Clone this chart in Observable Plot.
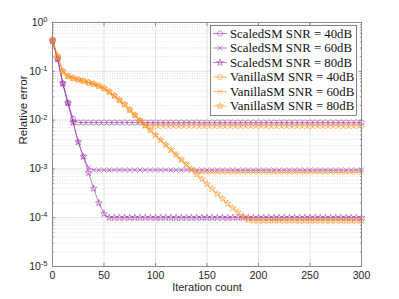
<!DOCTYPE html>
<html><head><meta charset="utf-8">
<script src="https://cdn.jsdelivr.net/npm/d3@7"></script>
<script src="https://cdn.jsdelivr.net/npm/@observablehq/plot@0.6"></script>
<style>
body{margin:0;background:#fff;}
#wrap{position:relative;width:399px;height:299px;}
</style>
</head><body><div id="wrap"></div>
<script>
const iters = [0,5,10,15,20,25,30,35,40,45,50,55,60,65,70,75,80,85,90,95,100,105,110,115,120,125,130,135,140,145,150,155,160,165,170,175,180,185,190,195,200,205,210,215,220,225,230,235,240,245,250,255,260,265,270,275,280,285,290,295,300];

const scaled40 = [0.417,0.178,0.0562,0.0224,0.0107,0.0089,0.0089,0.0089,0.0089,0.0089,
  0.0089,0.0089,0.0089,0.0089,0.0089,0.0089,0.0089,0.0089,0.0089,0.0089,
  0.0089,0.0089,0.0089,0.0089,0.0089,0.0089,0.0089,0.0089,0.0089,0.0089,
  0.0089,0.0089,0.0089,0.0089,0.0089,0.0089,0.0089,0.0089,0.0089,0.0089,
  0.0089,0.0089,0.0089,0.0089,0.0089,0.0089,0.0089,0.0089,0.0089,0.0089,
  0.0089,0.0089,0.0089,0.0089,0.0089,0.0089,0.0089,0.0089,0.0089,0.0089,0.0089];
const scaled60 = [0.417,0.178,0.0562,0.0224,0.00891,0.00355,0.00178,0.00105,0.00095,0.00095,
  0.00095,0.00095,0.00095,0.00095,0.00095,0.00095,0.00095,0.00095,0.00095,0.00095,
  0.00095,0.00095,0.00095,0.00095,0.00095,0.00095,0.00095,0.00095,0.00095,0.00095,
  0.00095,0.00095,0.00095,0.00095,0.00095,0.00095,0.00095,0.00095,0.00095,0.00095,
  0.00095,0.00095,0.00095,0.00095,0.00095,0.00095,0.00095,0.00095,0.00095,0.00095,
  0.00095,0.00095,0.00095,0.00095,0.00095,0.00095,0.00095,0.00095,0.00095,0.00095,0.00095];
const scaled80 = [0.417,0.178,0.0562,0.0224,0.00891,0.00355,0.00178,0.000832,0.000398,0.000200,
  0.000120,0.0001,0.0001,0.0001,0.0001,0.0001,0.0001,0.0001,0.0001,0.0001,
  0.0001,0.0001,0.0001,0.0001,0.0001,0.0001,0.0001,0.0001,0.0001,0.0001,
  0.0001,0.0001,0.0001,0.0001,0.0001,0.0001,0.0001,0.0001,0.0001,0.0001,
  0.0001,0.0001,0.0001,0.0001,0.0001,0.0001,0.0001,0.0001,0.0001,0.0001,
  0.0001,0.0001,0.0001,0.0001,0.0001,0.0001,0.0001,0.0001,0.0001,0.0001,0.0001];
const vanilla40 = [0.447,0.200,0.100,0.0794,0.0724,0.0676,0.0631,0.0589,0.0550,0.0501,
  0.0447,0.0380,0.0316,0.0257,0.0209,0.0162,0.0126,0.0098,0.0078,0.0076,
  0.0076,0.0076,0.0076,0.0076,0.0076,0.0076,0.0076,0.0076,0.0076,0.0076,
  0.0076,0.0076,0.0076,0.0076,0.0076,0.0076,0.0076,0.0076,0.0076,0.0076,
  0.0076,0.0076,0.0076,0.0076,0.0076,0.0076,0.0076,0.0076,0.0076,0.0076,
  0.0076,0.0076,0.0076,0.0076,0.0076,0.0076,0.0076,0.0076,0.0076,0.0076,0.0076];
const vanilla60 = [0.447,0.200,0.100,0.0794,0.0724,0.0676,0.0631,0.0589,0.0550,0.0501,
  0.0447,0.0380,0.0316,0.0257,0.0209,0.0162,0.0126,0.00977,0.00776,0.00617,
  0.00490,0.00389,0.00309,0.00245,0.00195,0.00155,0.00123,0.000977,0.00085,0.00085,
  0.00085,0.00085,0.00085,0.00085,0.00085,0.00085,0.00085,0.00085,0.00085,0.00085,
  0.00085,0.00085,0.00085,0.00085,0.00085,0.00085,0.00085,0.00085,0.00085,0.00085,
  0.00085,0.00085,0.00085,0.00085,0.00085,0.00085,0.00085,0.00085,0.00085,0.00085,0.00085];
const vanilla80 = [0.447,0.200,0.100,0.0794,0.0724,0.0676,0.0631,0.0589,0.0550,0.0501,
  0.0447,0.0380,0.0316,0.0257,0.0209,0.0162,0.0126,0.00977,0.00776,0.00617,
  0.00490,0.00389,0.00309,0.00245,0.00195,0.00155,0.00123,0.000977,0.000776,0.000617,
  0.000490,0.000389,0.000309,0.000245,0.000195,0.000158,0.000129,0.000107,0.0000912,0.0000871,
  0.0000871,0.0000871,0.0000871,0.0000871,0.0000871,0.0000871,0.0000871,0.0000871,0.0000871,0.0000871,
  0.0000871,0.0000871,0.0000871,0.0000871,0.0000871,0.0000871,0.0000871,0.0000871,0.0000871,0.0000871,0.0000871];

const seriesNames = ["ScaledSM SNR = 40dB","ScaledSM SNR = 60dB","ScaledSM SNR = 80dB","VanillaSM SNR = 40dB","VanillaSM SNR = 60dB","VanillaSM SNR = 80dB"];
const seriesValues = [scaled40, scaled60, scaled80, vanilla40, vanilla60, vanilla80];
const seriesColors = ["#9a2fae","#9a2fae","#9a2fae","#ff8a14","#ff8a14","#ff8a14"];
const seriesSymbols = ["circle","times","star","circle","times","star"];

const xTicks = [0,50,100,150,200,250,300];
const yTicks = [1e-5,1e-4,1e-3,1e-2,1e-1,1];
const yMinor = [];
for (const d of [1e-5,1e-4,1e-3,1e-2,1e-1]) for (const m of [2,3,4,5,6,7,8,9]) yMinor.push(d*m);

const rows = [];
seriesValues.forEach((vals, s) => vals.forEach((v, i) => rows.push({x: iters[i], y: v, s})));
const symR = {circle:2.6, times:2.4, star:2.1};

const marks = [
  Plot.ruleY(yMinor, {stroke:"#d6d6d6", strokeDasharray:"1,1.5", strokeWidth:0.7}),
  Plot.ruleX(xTicks.slice(1,-1), {stroke:"#e3e3e3"}),
  Plot.ruleY(yTicks.slice(1,-1), {stroke:"#e3e3e3"}),
];
seriesValues.forEach((vals, s) => {
  const data = rows.filter(r => r.s === s);
  marks.push(Plot.line(data, {x:"x", y:"y", stroke: seriesColors[s], strokeOpacity:0.6, strokeWidth:1}));
  marks.push(Plot.dot(data, {x:"x", y:"y", symbol: seriesSymbols[s], r: symR[seriesSymbols[s]], stroke: seriesColors[s], strokeOpacity:0.6, fill:"none", strokeWidth:0.9}));
});
marks.push(
  Plot.frame({stroke:"#8a8a8a"}),
  Plot.axisX({anchor:"bottom", ticks:xTicks, tickSize:-3, tickPadding:8, stroke:"#8a8a8a", tickFormat:d=>String(d), label:null}),
  Plot.axisX({anchor:"top", ticks:xTicks, tickSize:-3, fill:"none", stroke:"#8a8a8a", label:null}),
  Plot.axisY({anchor:"left", ticks:yTicks, tickSize:-3, tickPadding:8, stroke:"#8a8a8a", tickFormat:d=>"10^" + Math.round(Math.log10(d)), label:null}),
  Plot.axisY({anchor:"right", ticks:yTicks, tickSize:-3, fill:"none", stroke:"#8a8a8a", label:null}),
  Plot.axisY({anchor:"left", ticks:yMinor, tickSize:-1.8, fill:"none", stroke:"#8a8a8a", label:null}),
  Plot.axisY({anchor:"right", ticks:yMinor, tickSize:-1.8, fill:"none", stroke:"#8a8a8a", label:null}),
  Plot.text(["Iteration count"], {frameAnchor:"bottom", dy:24, fontSize:11, fill:"#262626"}),
  Plot.text(["Relative error"], {frameAnchor:"left", rotate:-90, dx:-29, fontSize:11.5, fill:"#262626"})
);

const chart = Plot.plot({
  width:399, height:299,
  marginLeft:52, marginRight:38, marginTop:22, marginBottom:33,
  style:{fontFamily:"'Liberation Sans', Arial, sans-serif", fontSize:"10.5px", color:"#262626", background:"#fff"},
  x:{domain:[0,300], label:null},
  y:{type:"log", domain:[1e-5,1], label:null},
  marks
});
document.getElementById("wrap").appendChild(chart);

// superscript exponents on y tick labels
const svg = d3.select(chart);
svg.selectAll("g[aria-label='y-axis tick label'] text").each(function() {
  const t = d3.select(this);
  const s = t.text();
  if (s.indexOf("^") < 0) return;
  const [base, exp] = s.split("^");
  t.text(base);
  t.append("tspan").attr("dy","-0.5em").attr("font-size","7.5px").text(exp);
});

// legend
const lg = svg.append("g").attr("font-family","'Liberation Serif','DejaVu Serif',serif").attr("font-size","12.8px").attr("text-anchor","start");
lg.append("rect").attr("x",210.5).attr("y",25.5).attr("width",146).attr("height",90).attr("fill","#fff").attr("stroke","#333").attr("stroke-width",0.6);
seriesNames.forEach((name, s) => {
  const y = 33.5 + s*14.5;
  lg.append("line").attr("x1",213).attr("x2",227).attr("y1",y).attr("y2",y).attr("stroke",seriesColors[s]).attr("stroke-opacity",0.6);
  const sym = {circle:d3.symbolCircle, times:d3.symbolTimes, star:d3.symbolStar}[seriesSymbols[s]];
  const r = symR[seriesSymbols[s]];
  lg.append("path").attr("transform",`translate(220,${y})`).attr("d", d3.symbol(sym, Math.PI*r*r)()).attr("fill","none").attr("stroke",seriesColors[s]).attr("stroke-opacity",0.6).attr("stroke-width",0.9);
  lg.append("text").attr("x",230).attr("y",y).attr("dy","0.35em").attr("fill","#111").text(name);
});
</script>
</body></html>
